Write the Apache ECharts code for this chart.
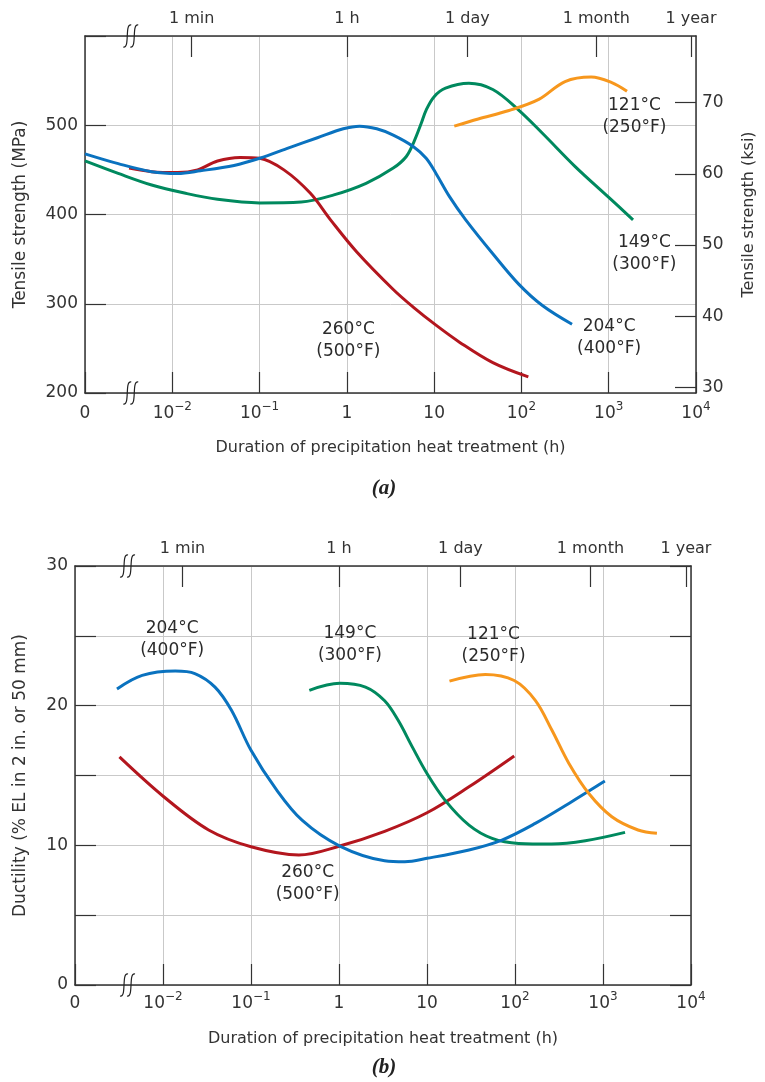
<!DOCTYPE html>
<html><head><meta charset="utf-8">
<script src="https://cdn.jsdelivr.net/npm/echarts@6/dist/echarts.min.js"></script>
<style>html,body{margin:0;padding:0;background:#fff}#c{width:765px;height:1082px}</style>
</head><body><div id="c"></div>
<script>
// ---------- data (hours, value) ----------
// (a) Tensile strength, MPa
const tensile260 = [[0.0032,452],[0.0058,448],[0.0115,447],[0.0195,450],[0.033,460],[0.06,464],[0.10,463],[0.19,450],[0.38,424],[0.65,394],[1.3,358],[3.4,316],[5.8,296],[10.5,276],[19.5,257],[47,234],[120,218]];
const tensile204 = [[0.001,468],[0.0024,457],[0.0058,448],[0.0115,446],[0.021,449],[0.051,455],[0.10,463],[0.22,475],[0.46,486],[0.91,496],[1.4,499],[2.2,496],[3.4,489],[5.8,476],[8.1,463],[10.5,446],[15,420],[23,394],[47,356],[93,322],[174,298],[380,277]];
const tensile149 = [[0.001,460],[0.0024,446],[0.0058,433],[0.0138,424],[0.033,417],[0.10,413],[0.30,414],[0.71,422],[1.66,435],[3.4,452],[4.8,465],[5.9,482],[7.1,502],[8.1,517],[10,532],[13.5,541.5],[25,547],[47,540],[93,517],[174,491],[410,454],[980,420],[1900,394]];
const tensile121 = [[17,499],[32,507],[72,516.5],[158,529],[316,549],[630,554],[1070,548],[1620,538]];
// (b) Ductility, %EL
const duct260 = [[0.0032,16.33],[0.0102,13.48],[0.033,11.1],[0.10,9.9],[0.35,9.31],[1.02,9.95],[3.3,11.0],[10,12.33],[30,14.19],[98,16.4]];
const duct204 = [[0.003,21.2],[0.0058,22.17],[0.0138,22.48],[0.023,22.3],[0.039,21.33],[0.06,19.67],[0.10,16.8],[0.19,14.07],[0.38,11.8],[1.02,9.95],[3.3,8.9],[5.6,8.83],[10,9.07],[30,9.67],[71,10.38],[170,11.57],[410,13.0],[1050,14.6]];
const duct149 = [[0.46,21.1],[1.02,21.6],[2.0,21.33],[3.3,20.35],[4.7,18.95],[6.8,17.05],[10,15.14],[16,13.24],[30,11.45],[55,10.5],[110,10.14],[260,10.1],[630,10.33],[1780,10.93]];
const duct121 = [[18,21.76],[46,22.24],[98,21.8],[170,20.38],[263,18.24],[410,15.86],[690,13.71],[1260,12.05],[2500,11.1],[4100,10.86]];
// curve labels
const labelsA = [[1.04,259,'260°C\n(500°F)'],[1010,262,'204°C\n(400°F)'],[2560,356,'149°C\n(300°F)'],[1970,510,'121°C\n(250°F)']];
const labelsB = [[0.0127,24.7,'204°C\n(400°F)'],[1.33,24.36,'149°C\n(300°F)'],[0.44,7.28,'260°C\n(500°F)'],[57,24.3,'121°C\n(250°F)']];
// time ticks on top axes
const timeTickHours = [1/60, 1, 24, 720, 8760];
const timeTickLabels = ['1 min','1 h','1 day','1 month','1 year'];
const ksiTicks = [30,40,50,60,70];
const breakAt = [0.0033, 0.0039];

// ---------- styling ----------
const FONT = 'DejaVu Sans';
const TXT = '#333';
const AX = '#333';
const GRIDC = '#c9c9c9';
const COL = {c260:'#b3161e', c204:'#0a72bf', c149:'#00895e', c121:'#f7971d'};
const timeTickLog = timeTickHours.map(h => Math.log10(h));

function logLabel(v){
  const e = Math.round(Math.log10(v));
  if (e === -3) return '{b|0}';
  if (e === 0) return '{b|1}';
  if (e === 1) return '{b|10}';
  return '{b|10}{s|' + (e < 0 ? '\u2212' + (-e) : e) + '}';
}
const richLog = {
  b:{fontFamily:FONT,fontSize:17,lineHeight:26,color:TXT},
  s:{fontFamily:FONT,fontSize:12,lineHeight:14,verticalAlign:'top',color:TXT}
};
function timeLabel(v){
  let best = 0, d = 1e9;
  timeTickLog.forEach((t,i)=>{ if (Math.abs(t-v) < d){d=Math.abs(t-v);best=i;} });
  return timeTickLabels[best];
}
const axisLine = {show:true, onZero:false, lineStyle:{color:AX, width:1.5}};
const tickIn = {show:true, inside:true, length:21, lineStyle:{color:AX, width:1.2}};
const nameStyle = {fontFamily:FONT, fontSize:16, color:TXT};
const nameStyleY = {fontFamily:FONT, fontSize:17, color:TXT};
const split = {show:true, lineStyle:{color:GRIDC, width:1}};

function logX(gi, name, gap){
  return {gridIndex:gi, type:'log', logBase:10, min:0.001, max:10000, position:'bottom',
    axisLine, axisTick:tickIn, splitLine:split, minorTick:{show:false},
    axisLabel:{formatter:logLabel, rich:richLog, margin:gi===0?8:6, color:TXT},
    name, nameLocation:'middle', nameGap:gap, nameTextStyle:nameStyle};
}
function topX(gi){
  return {gridIndex:gi, type:'value', min:-3, max:4, position:'top',
    axisLine, axisTick:Object.assign({}, tickIn, {customValues:timeTickLog}),
    splitLine:{show:false},
    axisLabel:{customValues:timeTickLog, formatter:timeLabel, margin:9, fontFamily:FONT, fontSize:16, color:TXT}};
}
function line(data, color, xi, yi, z){
  return {type:'line', data, xAxisIndex:xi, yAxisIndex:yi, smooth:0.35, showSymbol:false, symbol:'none',
    lineStyle:{color, width:3}, itemStyle:{color}, z, silent:true};
}
function labelSeries(arr, xi, yi){
  return {type:'scatter', xAxisIndex:xi, yAxisIndex:yi, symbolSize:0, silent:true, z:10,
    itemStyle:{opacity:1, color:'rgba(0,0,0,0)'},
    data: arr.map(a => ({value:[a[0],a[1]], name:a[2]})),
    label:{show:true, position:'inside', formatter:p=>p.name, fontFamily:FONT, fontSize:17, lineHeight:22,
      color:'#2b2b2b', opacity:1, textBorderWidth:0}};
}

const chart = echarts.init(document.getElementById('c'), null, {renderer:'canvas'});
chart.setOption({
  animation:false,
  backgroundColor:'#fff',
  grid:[
    {left:85, top:36, right:64, bottom:689},
    {left:75, top:566, right:74, bottom:97}
  ],
  xAxis:[
    logX(0,'Duration of precipitation heat treatment (h)',47),
    topX(0),
    logX(1,'Duration of precipitation heat treatment (h)',46),
    topX(1)
  ],
  yAxis:[
    {gridIndex:0, type:'value', min:200, max:600, interval:100, position:'left',
      axisLine, axisTick:tickIn, splitLine:split,
      axisLabel:{formatter:v=> v===600?'':String(v), margin:7, fontFamily:FONT, fontSize:17, color:TXT},
      name:'Tensile strength (MPa)', nameLocation:'middle', nameGap:56, nameRotate:90, nameTextStyle:nameStyleY},
    {gridIndex:0, type:'value', min:29.2, max:79.37, position:'right',
      axisLine, axisTick:Object.assign({}, tickIn, {customValues:ksiTicks}), splitLine:{show:false},
      axisLabel:{customValues:ksiTicks, margin:6, fontFamily:FONT, fontSize:17, color:TXT},
      name:'Tensile strength (ksi)', nameLocation:'middle', nameGap:45, nameRotate:90, nameTextStyle:nameStyle},
    {gridIndex:1, type:'value', min:0, max:30, interval:5, position:'left',
      axisLine, axisTick:tickIn, splitLine:split,
      axisLabel:{formatter:v=> v%10===0?String(v):'', margin:7, fontFamily:FONT, fontSize:17, color:TXT},
      name:'Ductility (% EL in 2 in. or 50 mm)', nameLocation:'middle', nameGap:46, nameRotate:90, nameTextStyle:nameStyleY},
    {gridIndex:1, type:'value', min:0, max:30, interval:5, position:'right',
      axisLine, axisTick:tickIn, splitLine:{show:false}, axisLabel:{show:false}}
  ],
  series:[
    line(tensile149, COL.c149, 0, 0, 2),
    line(tensile260, COL.c260, 0, 0, 3),
    line(tensile204, COL.c204, 0, 0, 4),
    line(tensile121, COL.c121, 0, 0, 5),
    labelSeries(labelsA, 0, 0),
    line(duct260, COL.c260, 2, 2, 2),
    line(duct149, COL.c149, 2, 2, 3),
    line(duct204, COL.c204, 2, 2, 4),
    line(duct121, COL.c121, 2, 2, 5),
    labelSeries(labelsB, 2, 2)
  ]
});

// break marks and captions
const g = [];
function breakMark(x, y){
  [0,7].forEach(dx=>{
    const cx = x + dx;
    g.push({type:'bezierCurve', z:100, shape:{x1:cx+4,y1:y-11,cpx1:cx-3,cpy1:y-13,cpx2:cx+3,cpy2:y+13,x2:cx-4,y2:y+11},
      style:{stroke:'#222', lineWidth:1.2, fill:null}});
  });
}
[[0,0,200,600],[2,2,0,30]].forEach((c,i)=>{
  const x = chart.convertToPixel({xAxisIndex:c[0]}, breakAt[i]) - 3;
  const yb = chart.convertToPixel({yAxisIndex:c[1]}, c[2]);
  const yt = chart.convertToPixel({yAxisIndex:c[1]}, c[3]);
  breakMark(x, yb); breakMark(x, yt);
});
g.push({type:'text', z:100, style:{text:'(a)', x:384, y:489, align:'center', verticalAlign:'middle', font:'italic bold 21px "Liberation Serif"', fill:'#222'}});
g.push({type:'text', z:100, style:{text:'(b)', x:384, y:1068, align:'center', verticalAlign:'middle', font:'italic bold 21px "Liberation Serif"', fill:'#222'}});
chart.setOption({graphic:g});
</script>
</body></html>
